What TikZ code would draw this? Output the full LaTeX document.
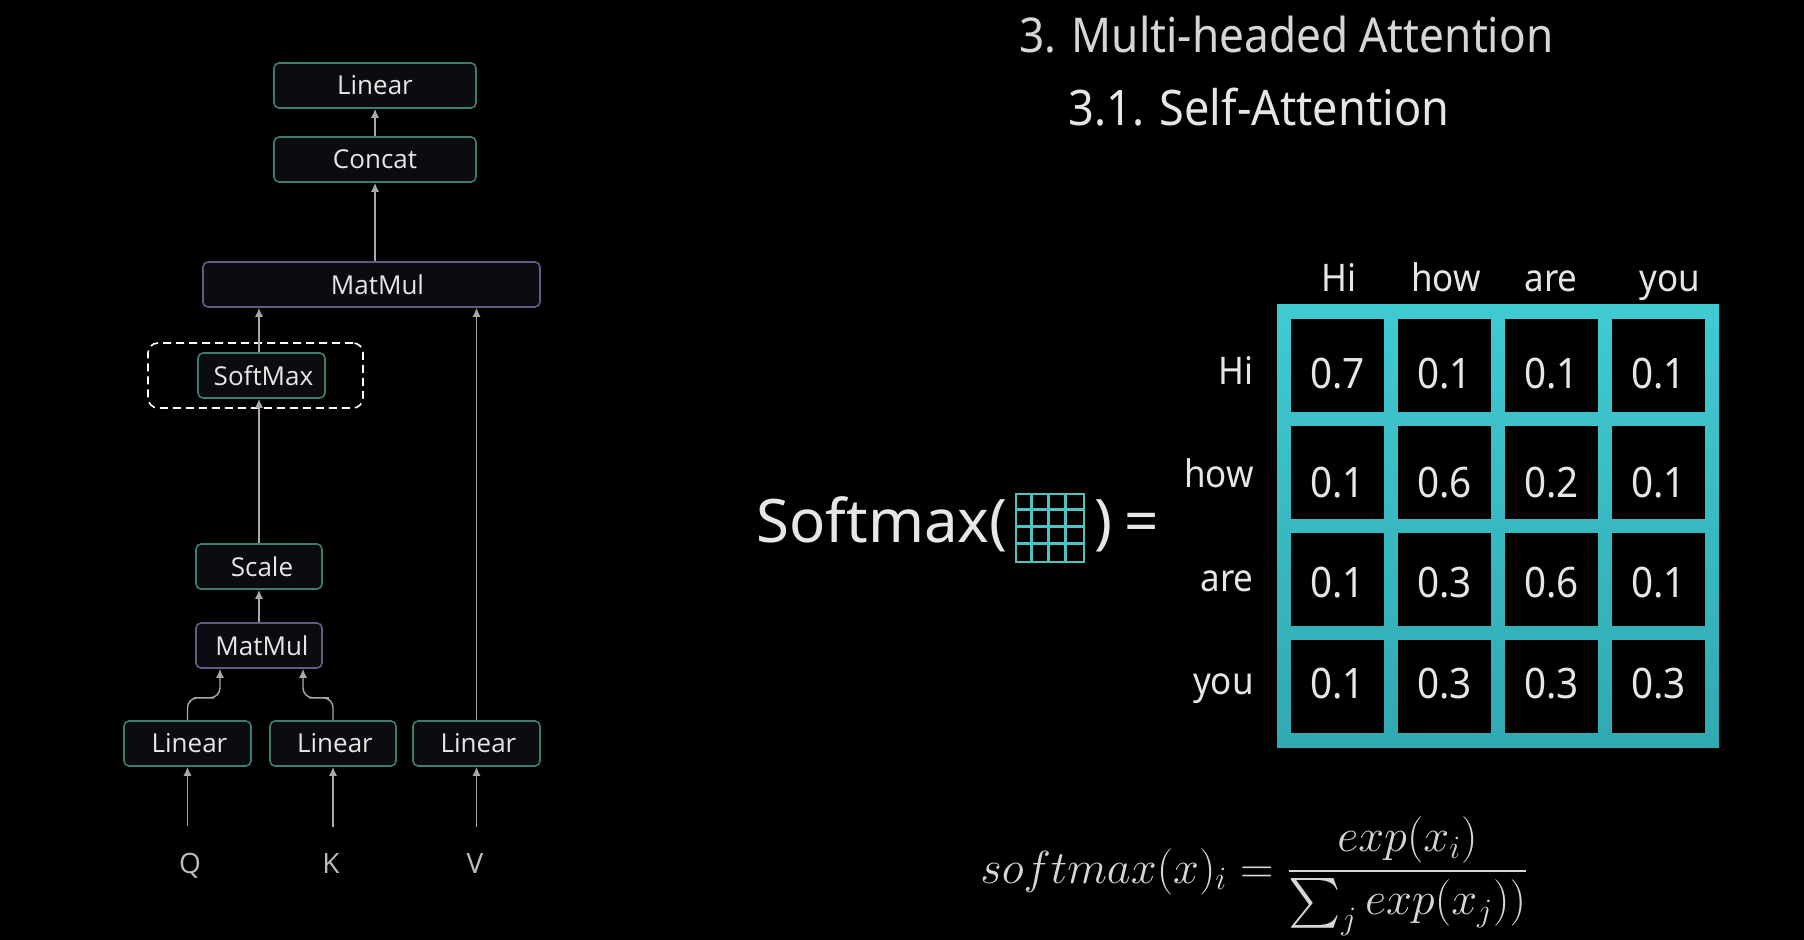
\RequirePackage{fix-cm}
\documentclass[tikz,border=0pt]{standalone}
\usepackage{exscale}
\usepackage{fontspec}
\setmainfont{Noto Sans}
\newfontfamily\rob[FakeStretch=0.92]{Noto Sans}
\newfontfamily\smxfont{Noto Sans}
\newfontfamily\diagfont{Open Sans}
\usetikzlibrary{arrows.meta,calc}
\definecolor{tealb}{HTML}{3E7D6E}
\definecolor{purb}{HTML}{625C84}
\definecolor{arrc}{HTML}{A9A9A9}
\definecolor{txt}{HTML}{E6E6E6}
\definecolor{titlec}{HTML}{D6D6D6}
\definecolor{cyanA}{HTML}{40CAD2}
\definecolor{cyanB}{HTML}{31A9B1}
\definecolor{gridc}{HTML}{4CC3C2}
\definecolor{boxfill}{HTML}{0A0C10}
\definecolor{lblc}{HTML}{BDBDBD}
\tikzset{
  blk/.style={draw=tealb, line width=0.8pt, fill=boxfill, rounded corners=2.5pt,
    minimum height=22.5pt, inner sep=0pt, text=txt, font=\diagfont\fontsize{13}{15}\selectfont},
  mmblk/.style={blk, draw=purb},
  arr/.style={draw=arrc, line width=0.7pt, -{Latex[length=4.5pt,width=4pt]}},
  inlbl/.style={text=lblc, font=\diagfont\fontsize{14}{16}\selectfont, inner sep=0pt, anchor=base},
  hdr/.style={text=txt, font=\rob\fontsize{19}{21}\selectfont, inner sep=0pt},
  num/.style={text=txt, font=\rob\fontsize{21}{23}\selectfont, inner sep=0pt},
  cell/.style={fill=black, draw=none, minimum width=46.5pt, minimum height=46.5pt, inner sep=0pt},
}
\begin{document}
\begin{tikzpicture}[x=0.5pt,y=-0.5pt]
\path[fill=black] (0,0) rectangle (1804,940);
\useasboundingbox (0,0) rectangle (1804,940);

% ---------- left diagram ----------
\node[draw=white, dash pattern=on 4pt off 2.5pt, line width=0.8pt, rounded corners=5pt,
      minimum width=107.5pt, minimum height=32.5pt, inner sep=0pt] (dbox) at (255.5,375.5) {};
\node[blk, minimum width=101pt] (lin0) at (375,85.5) {Linear};
\node[blk, minimum width=101pt] (concat) at (375,159.5) {Concat};
\node[mmblk, minimum width=168.5pt] (mm1) at (371.5,284.5) {\hspace*{6pt}MatMul};
\node[blk, minimum width=63.5pt] (sm) at (261.5,375.5) {\hspace*{2pt}SoftMax};
\node[blk, minimum width=63pt] (scale) at (259,566.5) {\hspace*{3pt}Scale};
\node[mmblk, minimum width=63pt] (mm2) at (259,645.5) {\hspace*{3pt}MatMul};
\node[blk, minimum width=63.5pt] (l1) at (187.5,743.5) {\hspace*{2pt}Linear};
\node[blk, minimum width=63pt] (l2) at (333,743.5) {\hspace*{2pt}Linear};
\node[blk, minimum width=63.5pt] (l3) at (476.5,743.5) {\hspace*{2pt}Linear};
\node[inlbl] (q) at (190,873) {Q};
\node[inlbl] (k) at (331,873) {K};
\node[inlbl] (v) at (475,873) {V};

\draw[arr, shorten <=13pt] (l1.south |- q.north) -- (l1.south);
\draw[arr, shorten <=13pt] (l2.south |- k.north) -- (l2.south);
\draw[arr, shorten <=13pt] (l3.south |- v.north) -- (l3.south);
\draw[arr] (l3.north) -- (l3.north |- mm1.south);
\draw[arr, rounded corners=5pt] (l1.north) |- ($(mm2.south)+(-55,29)$) -| ($(mm2.south)+(-39,0)$);
\draw[arr, rounded corners=5pt] (l2.north) |- ($(mm2.south)+(60,29)$) -| ($(mm2.south)+(44,0)$);
\draw[arr] (mm2.north) -- (scale.south);
\draw[arr] (scale.north) -- (scale.north |- sm.south);
\draw[arr] (scale.north |- sm.north) -- (scale.north |- mm1.south);
\draw[arr] (concat.south |- mm1.north) -- (concat.south);
\draw[arr] (concat.north) -- (lin0.south);

% ---------- titles ----------
\node[anchor=base west, inner sep=0pt, text=titlec, font=\rob\fontsize{24}{28}\selectfont] (title) at (1019,53) {3. Multi-headed Attention};
\node[anchor=base west, inner sep=0pt, text=txt, font=\rob\fontsize{24.5}{28}\selectfont] (subtitle) at (1068,126) {3.1. Self-Attention};

% ---------- Softmax( grid ) = ----------
\node[anchor=base east, inner sep=0pt, text=txt, font=\smxfont\fontsize{30}{33}\selectfont] (smx) at (1008,543) {Softmax(};
\node[fill=black, draw=gridc, line width=1.4pt, minimum width=34pt, minimum height=34pt, inner sep=0pt] (grid) at (1050,528) {};
\foreach \i in {1,2,3} {
  \draw[gridc, line width=1.4pt] ($(grid.north west)+(17*\i,0)$) -- ($(grid.south west)+(17*\i,0)$);
  \draw[gridc, line width=1.4pt] ($(grid.north west)+(0,17*\i)$) -- ($(grid.north east)+(0,17*\i)$);
}
\node[anchor=base west, inner sep=0pt, text=txt, font=\smxfont\fontsize{30}{33}\selectfont] (rpar) at (1094,543) {)};
\node[anchor=base west, inner sep=0pt, text=txt, font=\smxfont\fontsize{30}{33}\selectfont] (eq) at (1124,543) {=};

% ---------- attention matrix ----------
\shade[top color=cyanA, bottom color=cyanB] (1277,305) rectangle (1719,747);
\foreach \r in {0,1,2,3} {
  \foreach \c in {0,1,2,3} {
    \node[cell] (c\r\c) at (1337.5+107*\c, 365.5+107*\r) {};
  }
}
\foreach \v [count=\n from 0] in {0.7,0.1,0.1,0.1} { \node[num] at ($(c0\n)+(0,8)$) {\v}; }
\foreach \v [count=\n from 0] in {0.1,0.6,0.2,0.1} { \node[num] at ($(c1\n)+(0,10)$) {\v}; }
\foreach \v [count=\n from 0] in {0.1,0.3,0.6,0.1} { \node[num] at ($(c2\n)+(0,3)$) {\v}; }
\foreach \v [count=\n from 0] in {0.1,0.3,0.3,0.3} { \node[num] at ($(c3\n)+(0,-3)$) {\v}; }

\node[hdr, anchor=base] (h0) at (1339,292) {Hi};
\node[hdr, anchor=base] (h1) at (1446,292) {how};
\node[hdr, anchor=base] (h2) at (1551,292) {are};
\node[hdr, anchor=base] (h3) at (1670,292) {you};
\node[hdr, anchor=base east] (r0) at (1254,385) {Hi};
\node[hdr, anchor=base east] (r1) at (1254,488) {how};
\node[hdr, anchor=base east] (r2) at (1254,592) {are};
\node[hdr, anchor=base east] (r3) at (1254,694) {you};

% ---------- formula ----------
\node[anchor=base west, inner sep=0pt, text=titlec, font=\fontsize{23.2}{27}\selectfont] (formula) at (980,883)
  {$\displaystyle softmax(x)_i = \frac{exp(x_i)}{\sum_j exp(x_j))}$};
\end{tikzpicture}
\end{document}
